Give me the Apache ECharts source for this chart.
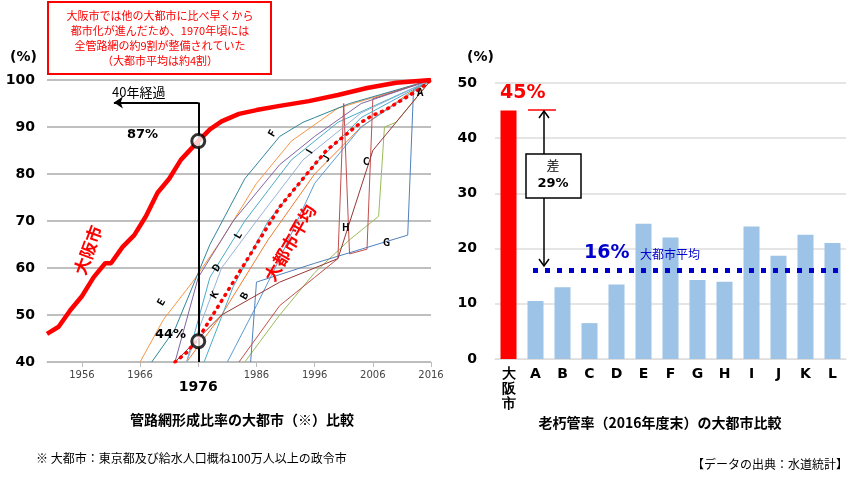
<!DOCTYPE html>
<html><head><meta charset="utf-8">
<script src="https://cdn.jsdelivr.net/npm/echarts@6/dist/echarts.min.js"></script>
<style>html,body{margin:0;background:#fff}#c{width:866px;height:488px}</style>
</head><body><div id="c"></div>
<script>
// left chart: network formation ratio by year
const yearTicks = [1956, 1966, 1976, 1986, 1996, 2006, 2016];
const osaka = [[1950,46],[1952,47.5],[1954,51],[1956,54],[1958,58],[1960,61],[1961,61],[1963,64.5],[1965,67],[1967,71],[1969,76],[1971,79],[1973,83],[1976,87],[1978,89.5],[1980,91.2],[1983,92.8],[1986,93.6],[1990,94.5],[1995,95.5],[2000,96.8],[2005,98.3],[2010,99.4],[2016,100]];
const cityAvg = [[1972,40],[1974,42],[1976,45],[1978,49],[1980,53],[1982,57],[1984,61],[1986,65],[1988,69],[1990,73],[1992,76],[1994,79],[1996,82],[1998,85],[2000,87],[2002,89],[2004,91],[2006,92.5],[2008,93.5],[2010,95],[2012,96.5],[2014,98],[2016,100]];
const cityNames = ['A','B','C','D','E','F','G','H','I','J','K','L'];
const cityColors = ['#ed7d31','#5b9bd5','#9bbb59','#4bacc6','#f79646','#31859c','#4f81bd','#c0504d','#8064a2','#4bacc6','#953735','#95b3d7'];
const cityLines = [
  [[1974,40],[1980,50],[1988,66],[1996,80],[2004,90],[2012,97],[2016,100]],
  [[1981,40],[1986,52],[1990,62],[1996,78],[2004,90],[2016,100]],
  [[1984,40],[1990,50],[1996,59],[2002,66],[2007,71],[2008,90],[2010,91],[2016,100]],
  [[1974,40],[1978,58],[1984,70],[1992,83],[2000,91],[2016,100]],
  [[1966,40],[1970,49],[1975,57],[1980,66],[1986,78],[1992,87],[2000,94],[2016,100]],
  [[1968,40],[1972,47],[1978,65],[1984,79],[1990,88],[1994,91],[1996,92],[2002,95],[2016,100]],
  [[1985,40],[1986,57],[1996,61],[2004,64],[2012,67],[2013,98],[2016,100]],
  [[1983,40],[1990,52],[1996,58],[2000,62],[2001,95],[2002,63],[2005,64],[2006,96],[2016,100]],
  [[1972,40],[1976,58],[1982,70],[1990,82],[1996,88],[2004,95],[2016,100]],
  [[1977,40],[1982,56],[1988,70],[1996,82],[2004,92],[2016,100]],
  [[1972,40],[1980,50],[1990,57],[1996,60],[2000,62],[2006,85],[2016,100]],
  [[1974,40],[1980,60],[1986,70],[1994,83],[2004,93],[2016,100]]
];
// right chart: aged pipe ratio (end of FY2016)
const barCats = ['大\n阪\n市','A','B','C','D','E','F','G','H','I','J','K','L'];
const barVals = [45, 10.5, 13, 6.5, 13.5, 24.5, 22, 14.3, 14, 24, 18.7, 22.5, 21];
const avgRatio = 16;

const chart = echarts.init(document.getElementById('c'));
const series = [];
cityLines.forEach((d, i) => series.push({type:'line', data:d, xAxisIndex:0, yAxisIndex:0, symbol:'none',
  lineStyle:{width:1, color:cityColors[i]}, silent:true}));
series.push({type:'line', data:cityAvg, symbol:'none', lineStyle:{width:3.5, color:'#ff0000', type:[1,6], cap:'round'}, z:5});
series.push({type:'line', data:osaka, symbol:'none', lineStyle:{width:4.5, color:'#ff0000'}, z:6,
  markLine:{silent:true, symbol:'none', lineStyle:{color:'#000', width:2, type:'solid'}, label:{show:false},
    data:[[{coord:[1976,40]},{coord:[1976,95.2]}],
          [{coord:[1976,95.2]},{coord:[1961.5,95.2], symbol:'arrow', symbolSize:9}]]}});
series.push({type:'scatter', data:[[1976,87],[1976,44.4]], symbol:'circle', symbolSize:13,
  itemStyle:{color:'#fff', borderColor:'#000', borderWidth:3}, z:10});
series.push({type:'bar', xAxisIndex:1, yAxisIndex:1, barWidth:16,
  data: barVals.map((v, i) => ({value:v, itemStyle:{color: i === 0 ? '#ff0000' : '#9dc3e6'}})),
  markLine:{silent:true, symbol:'none', label:{show:false},
    lineStyle:{color:'#0000cc', width:5, type:[5,7]},
    data:[[{coord:['A',avgRatio], x:533},{coord:['L',avgRatio], x:840}]]}});

const T = (x, y, text, style, extra) => Object.assign({type:'text', x, y, style:Object.assign({text, fontFamily:'Noto Sans CJK JP'}, style), z:20}, extra || {});
chart.setOption({
  animation:false,
  textStyle:{fontFamily:'Noto Sans CJK JP'},
  grid:[{left:47, right:435, top:80, bottom:126}, {left:495, right:20, top:83, bottom:129}],
  xAxis:[
    {type:'value', gridIndex:0, min:1950, max:2016, splitLine:{show:false},
     axisLine:{lineStyle:{color:'#bbb'}}, axisTick:{customValues:yearTicks, lineStyle:{color:'#bbb'}},
     axisLabel:{customValues:yearTicks, color:'#444', fontSize:10, fontFamily:'Verdana, DejaVu Sans',
       formatter:v => v === 1976 ? '{b|1976}' : v, rich:{b:{fontSize:14, fontWeight:'bold', color:'#000', padding:[10,0,0,0]}}}},
    {type:'category', gridIndex:1, data:barCats, axisTick:{show:false},
     axisLine:{lineStyle:{color:'#ddd'}},
     axisLabel:{color:'#000', fontSize:14, fontWeight:'bold', lineHeight:15, fontFamily:'Verdana, DejaVu Sans'}}
  ],
  yAxis:[
    {type:'value', gridIndex:0, min:40, max:100, interval:10,
     splitLine:{lineStyle:{color:'#aaa', width:1.5}}, axisLine:{show:false}, axisTick:{show:false},
     axisLabel:{color:'#000', fontSize:14, fontWeight:'bold', fontFamily:'Verdana, DejaVu Sans', margin:12}},
    {type:'value', gridIndex:1, min:0, max:50, interval:10,
     splitLine:{lineStyle:{color:'#ddd', width:1.5}}, axisLine:{show:false}, axisTick:{show:false},
     axisLabel:{color:'#000', fontSize:14, fontWeight:'bold', fontFamily:'Verdana, DejaVu Sans', margin:18}}
  ],
  series,
  graphic:[
    {type:'rect', shape:{x:48, y:2, width:223, height:72}, style:{fill:'#fff', stroke:'#ff0000', lineWidth:2}, z:20},
    T(160, 8, '大阪市では他の大都市に比べ早くから\n都市化が進んだため、1970年頃には\n全管路網の約9割が整備されていた\n（大都市平均は約4割）',
      {fill:'#ff0000', fontSize:11, lineHeight:15, align:'center'}),
    T(10, 50, '(%)', {fill:'#000', fontSize:14, fontWeight:'bold', fontFamily:'Verdana, DejaVu Sans'}),
    T(467, 50, '(%)', {fill:'#000', fontSize:14, fontWeight:'bold', fontFamily:'Verdana, DejaVu Sans'}),
    T(112, 86, '40年経過', {fill:'#000', fontSize:13}),
    T(127, 128, '87%', {fill:'#000', fontSize:13, fontWeight:'bold', fontFamily:'Verdana, DejaVu Sans'}),
    T(155, 328, '44%', {fill:'#000', fontSize:13, fontWeight:'bold', fontFamily:'Verdana, DejaVu Sans'}),
    T(88, 250, '大阪市', {fill:'#ff0000', fontSize:17, fontWeight:'bold', align:'center', verticalAlign:'middle'}, {rotation:Math.PI*70/180, x:88, y:250}),
    T(290, 243, '大都市平均', {fill:'#ff0000', fontSize:17, fontWeight:'bold', align:'center', verticalAlign:'middle'}, {rotation:Math.PI*60/180}),
    T(417, 87, 'A', {fill:'#000', fontSize:10, fontWeight:'bold'}),
    T(238, 296, 'B', {fill:'#000', fontSize:10, fontWeight:'bold'}, {rotation:Math.PI*60/180}),
    T(363, 156, 'C', {fill:'#000', fontSize:10, fontWeight:'bold'}),
    T(210, 268, 'D', {fill:'#000', fontSize:10, fontWeight:'bold'}, {rotation:Math.PI*60/180}),
    T(155, 302, 'E', {fill:'#000', fontSize:10, fontWeight:'bold'}, {rotation:Math.PI*60/180}),
    T(266, 133, 'F', {fill:'#000', fontSize:10, fontWeight:'bold'}, {rotation:Math.PI*60/180}),
    T(383, 237, 'G', {fill:'#000', fontSize:10, fontWeight:'bold'}),
    T(342, 222, 'H', {fill:'#000', fontSize:10, fontWeight:'bold'}),
    T(304, 150, 'I', {fill:'#000', fontSize:10, fontWeight:'bold'}, {rotation:Math.PI*60/180}),
    T(320, 158, 'J', {fill:'#000', fontSize:10, fontWeight:'bold'}, {rotation:Math.PI*60/180}),
    T(208, 295, 'K', {fill:'#000', fontSize:10, fontWeight:'bold'}, {rotation:Math.PI*60/180}),
    T(232, 235, 'L', {fill:'#000', fontSize:10, fontWeight:'bold'}, {rotation:Math.PI*60/180}),
    T(500, 84, '45%', {fill:'#ff0000', fontSize:19, fontWeight:'bold', fontFamily:'Verdana, DejaVu Sans'}),
    {type:'line', shape:{x1:528, y1:110, x2:556, y2:110}, style:{stroke:'#ff0000', lineWidth:1.5}, z:20},
    {type:'line', shape:{x1:544, y1:111, x2:544, y2:266}, style:{stroke:'#000', lineWidth:1.5}, z:20},
    {type:'polyline', shape:{points:[[539,118],[544,111],[549,118]]}, style:{stroke:'#000', lineWidth:1.5, fill:null}, z:20},
    {type:'polyline', shape:{points:[[539,259],[544,266],[549,259]]}, style:{stroke:'#000', lineWidth:1.5, fill:null}, z:20},
    {type:'rect', shape:{x:526, y:154, width:55, height:44}, style:{fill:'#fff', stroke:'#000', lineWidth:1.5}, z:21},
    T(553, 159, '差', {fill:'#000', fontSize:13, align:'center'}, {z:22}),
    T(553, 177, '29%', {fill:'#000', fontSize:13, fontWeight:'bold', align:'center', fontFamily:'Verdana, DejaVu Sans'}, {z:22}),
    T(584, 244, '16%', {fill:'#0000cc', fontSize:19, fontWeight:'bold', fontFamily:'Verdana, DejaVu Sans'}),
    T(640, 248, '大都市平均', {fill:'#0000cc', fontSize:12}),
    T(242, 413, '管路網形成比率の大都市（※）比較', {fill:'#000', fontSize:14, fontWeight:'bold', align:'center'}),
    T(660, 416, '老朽管率（2016年度末）の大都市比較', {fill:'#000', fontSize:14, fontWeight:'bold', align:'center'}),
    T(36, 452, '※ 大都市：東京都及び給水人口概ね100万人以上の政令市', {fill:'#000', fontSize:12}),
    T(848, 458, '【データの出典：水道統計】', {fill:'#000', fontSize:12, align:'right'})
  ]
});
</script></body></html>
